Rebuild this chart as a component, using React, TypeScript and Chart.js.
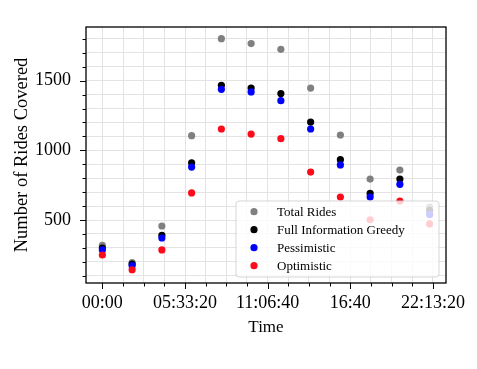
import React, { useEffect, useRef } from "react";
import { Chart, registerables } from "chart.js";

Chart.register(...registerables);

// ---- data ----
const timesSec = [0, 7200, 14400, 21600, 28800, 36000, 43200, 50400, 57600, 64800, 72000, 79200];
const totalRides = [318, 194, 457, 1105, 1801, 1766, 1725, 1447, 1110, 794, 859, 592];
const fullInfoGreedy = [299, 184, 390, 911, 1467, 1447, 1407, 1203, 933, 691, 794, 570];
const pessimistic = [285, 172, 371, 880, 1438, 1419, 1356, 1153, 895, 665, 756, 540];
const optimistic = [249, 143, 285, 694, 1153, 1117, 1084, 844, 665, 502, 636, 472];

const seriesNames = ["Total Rides", "Full Information Greedy", "Pessimistic", "Optimistic"];
const seriesColors = ["#808080", "#000000", "#0000ff", "#ff0a1a"];

const xTickValues = [0, 20000, 40000, 60000, 80000];
const xTickLabels = ["00:00", "05:33:20", "11:06:40", "16:40", "22:13:20"];
const xMinorStep = 5000;
const yTickValues = [500, 1000, 1500];
const yMinorStep = 100;

const X_MIN = -3960;
const X_MAX = 83160;
const Y_MIN = 48;
const Y_MAX = 1885;

const SERIF = "'Liberation Serif', 'Times New Roman', serif";

function minorValues(min: number, max: number, step: number) {
  const out: number[] = [];
  for (let v = Math.ceil(min / step) * step; v <= max; v += step) out.push(v);
  return out;
}

const framePlugin = {
  id: "framePlugin",
  afterDatasetsDraw(chart: any) {
    const { ctx, chartArea: a, scales } = chart;
    const xs = scales.x;
    const ys = scales.y;
    ctx.save();

    // legend (drawn over points, semi-transparent)
    const lw = 203;
    const lh = 76;
    const lx = a.right - 7 - lw;
    const ly = a.bottom - 6 - lh;
    const r = 3;
    ctx.beginPath();
    ctx.moveTo(lx + r, ly);
    ctx.lineTo(lx + lw - r, ly);
    ctx.quadraticCurveTo(lx + lw, ly, lx + lw, ly + r);
    ctx.lineTo(lx + lw, ly + lh - r);
    ctx.quadraticCurveTo(lx + lw, ly + lh, lx + lw - r, ly + lh);
    ctx.lineTo(lx + r, ly + lh);
    ctx.quadraticCurveTo(lx, ly + lh, lx, ly + lh - r);
    ctx.lineTo(lx, ly + r);
    ctx.quadraticCurveTo(lx, ly, lx + r, ly);
    ctx.closePath();
    ctx.fillStyle = "rgba(255,255,255,0.8)";
    ctx.fill();
    ctx.strokeStyle = "rgba(204,204,204,0.8)";
    ctx.lineWidth = 1;
    ctx.stroke();

    ctx.font = `13px ${SERIF}`;
    ctx.textBaseline = "middle";
    ctx.textAlign = "left";
    seriesNames.forEach((name, i) => {
      const cy = ly + 10.7 + i * 18;
      ctx.beginPath();
      ctx.arc(lx + 18, cy, 3.6, 0, Math.PI * 2);
      ctx.fillStyle = seriesColors[i];
      ctx.fill();
      ctx.fillStyle = "#000";
      ctx.fillText(name, lx + 41, cy + 0.5);
    });

    // tick marks
    ctx.strokeStyle = "#000";
    ctx.lineWidth = 1;
    ctx.beginPath();
    minorValues(X_MIN, X_MAX, xMinorStep).forEach((v) => {
      const px = Math.round(xs.getPixelForValue(v)) + 0.5;
      const len = xTickValues.includes(v) ? 6 : 3.5;
      ctx.moveTo(px, a.bottom);
      ctx.lineTo(px, a.bottom + len);
    });
    minorValues(Y_MIN, Y_MAX, yMinorStep).forEach((v) => {
      const py = Math.round(ys.getPixelForValue(v)) + 0.5;
      const len = yTickValues.includes(v) ? 6 : 3.5;
      ctx.moveTo(a.left, py);
      ctx.lineTo(a.left - len, py);
    });
    ctx.stroke();

    // frame
    ctx.lineWidth = 1.3;
    ctx.strokeRect(a.left, a.top, a.right - a.left, a.bottom - a.top);
    ctx.restore();
  },
};

export default function App() {
  const ref = useRef<HTMLCanvasElement | null>(null);

  useEffect(() => {
    if (!ref.current) return;
    const seriesData = [totalRides, fullInfoGreedy, pessimistic, optimistic];
    const chart = new Chart(ref.current, {
      type: "scatter",
      data: {
        datasets: seriesData.map((vals, i) => ({
          label: seriesNames[i],
          data: vals.map((v, j) => ({ x: timesSec[j], y: v })),
          backgroundColor: seriesColors[i],
          borderWidth: 0,
          pointRadius: 3.6,
          order: 4 - i,
        })),
      },
      options: {
        responsive: false,
        animation: false,
        devicePixelRatio: 1,
        layout: { padding: { left: 0, top: 27, right: 31, bottom: 0 } },
        plugins: { legend: { display: false }, tooltip: { enabled: false }, title: { display: false } },
        scales: {
          x: {
            type: "linear",
            min: X_MIN,
            max: X_MAX,
            afterBuildTicks: (s: any) => {
              s.ticks = minorValues(X_MIN, X_MAX, xMinorStep).map((v) => ({ value: v }));
            },
            afterFit: (s: any) => {
              s.height = 86;
            },
            grid: { color: "#e3e3e3", lineWidth: 1, drawTicks: false },
            border: { display: false },
            ticks: {
              autoSkip: false,
              maxRotation: 0,
              padding: 9.5,
              color: "#000",
              font: { family: SERIF, size: 18 },
              callback: (v: any) => {
                const k = xTickValues.indexOf(Number(v));
                return k >= 0 ? xTickLabels[k] : "";
              },
            },
            title: {
              display: true,
              text: "Time",
              color: "#000",
              font: { family: SERIF, size: 17 },
              padding: { top: 0, bottom: 31 },
            },
          },
          y: {
            type: "linear",
            min: Y_MIN,
            max: Y_MAX,
            afterBuildTicks: (s: any) => {
              s.ticks = minorValues(Y_MIN, Y_MAX, yMinorStep).map((v) => ({ value: v }));
            },
            afterFit: (s: any) => {
              s.width = 86;
            },
            grid: { color: "#e3e3e3", lineWidth: 1, drawTicks: false },
            border: { display: false },
            ticks: {
              autoSkip: false,
              padding: 15,
              color: "#000",
              font: { family: SERIF, size: 18 },
              callback: (v: any) => (yTickValues.includes(Number(v)) ? String(v) : ""),
            },
            title: {
              display: true,
              text: "Number of Rides Covered",
              color: "#000",
              font: { family: SERIF, size: 18.5 },
              padding: { top: 11, bottom: 0 },
            },
          },
        },
      },
      plugins: [framePlugin],
    });
    return () => chart.destroy();
  }, []);

  return (
    <div style={{ position: "fixed", left: 0, top: 0, width: 477, height: 369, background: "#fff" }}>
      <canvas ref={ref} width={477} height={369} style={{ display: "block" }} />
    </div>
  );
}
